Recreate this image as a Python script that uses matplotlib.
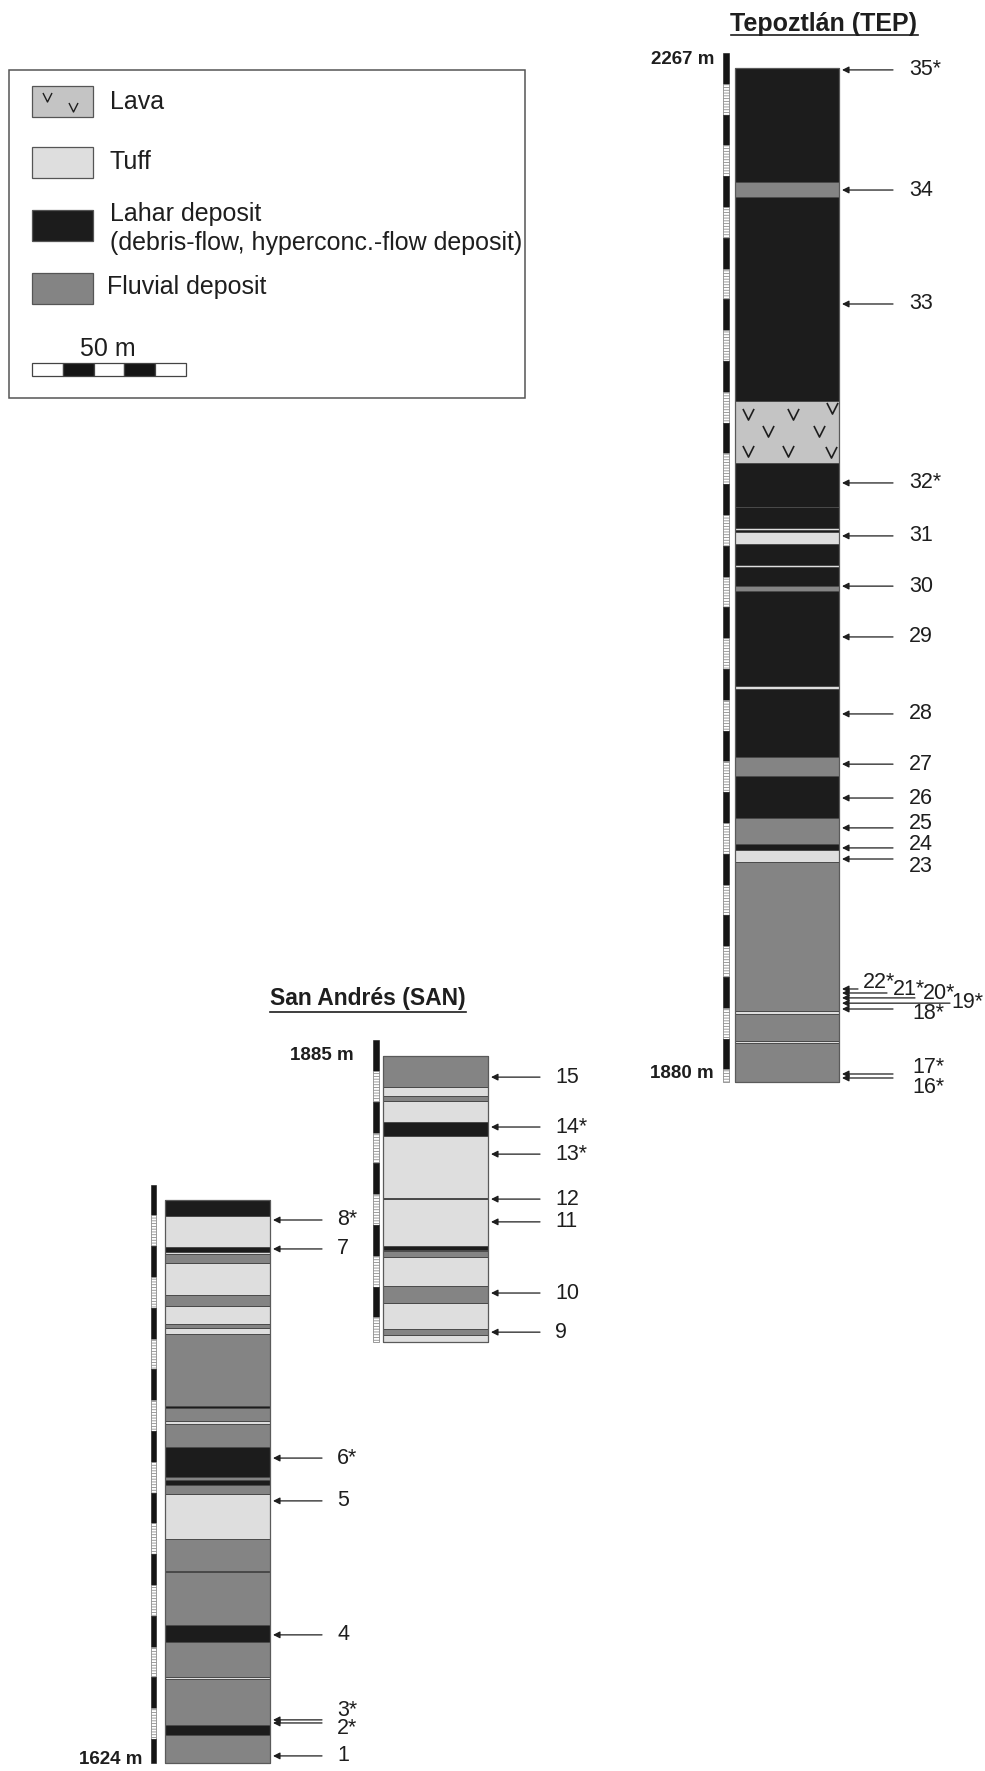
import matplotlib
matplotlib.use("Agg")
import matplotlib.pyplot as plt
from matplotlib.patches import Rectangle
import numpy as np

plt.rcParams["font.family"] = ["Liberation Sans", "DejaVu Sans"]
plt.rcParams["hatch.linewidth"] = 0.6

W, H = 985, 1771
PX = 3.08  # pixels per metre of section

FILL = {"lava": "#c4c4c4", "tuff": "#dedede", "lahar": "#1c1c1c", "fluvial": "#848484"}
INK = "#1e1e1e"

# Tepoztlan section, base -> top
tep_lith = ["fluvial", "tuff", "fluvial", "tuff", "fluvial", "tuff", "lahar", "fluvial",
            "lahar", "fluvial", "lahar", "tuff", "lahar", "fluvial", "lahar", "tuff",
            "lahar", "tuff", "lahar", "tuff", "lahar", "lahar", "lava", "lahar",
            "fluvial", "lahar"]
tep_thick = [12.7, 0.6, 8.8, 1.0, 48.4, 3.9, 1.9, 8.4,
             13.6, 6.2, 22.1, 1.0, 30.8, 1.6, 6.2, 0.7,
             6.8, 3.9, 0.6, 0.6, 6.8, 14.3, 20.1, 66.2,
             4.9, 37.0]
tep_samples = ["16*", "17*", "18*", "19*", "20*", "21*", "22*", "23", "24", "25",
               "26", "27", "28", "29", "30", "31", "32*", "33", "34", "35*"]
tep_sample_h = [1.3, 2.6, 23.7, 25.6, 27.3, 28.9, 30.2, 72.4, 76.0, 82.5,
                92.2, 103.2, 119.5, 144.5, 161.0, 177.3, 194.5, 252.6, 289.6, 328.6]

# San Andres, upper section (samples 9-15), base -> top
sanb_lith = ["tuff", "fluvial", "tuff", "fluvial", "tuff", "fluvial", "tuff", "lahar",
             "tuff", "lahar", "tuff", "lahar", "tuff", "fluvial", "tuff", "fluvial"]
sanb_thick = [2.3, 1.9, 8.4, 5.5, 9.4, 1.9, 0.4, 1.3,
              15.3, 0.3, 20.1, 4.5, 7.1, 1.6, 2.9, 10.1]
sanb_samples = ["9", "10", "11", "12", "13*", "14*", "15"]
sanb_sample_h = [3.2, 15.9, 39.0, 46.4, 61.0, 69.8, 86.0]

# San Andres, lower section (samples 1-8), base -> top
sana_lith = ["fluvial", "lahar", "fluvial", "tuff", "fluvial", "lahar", "fluvial", "lahar",
             "fluvial", "tuff", "fluvial", "lahar", "fluvial", "lahar", "fluvial", "tuff",
             "fluvial", "lahar", "fluvial", "tuff", "fluvial", "tuff", "fluvial", "tuff",
             "fluvial", "tuff", "lahar", "tuff", "lahar"]
sana_thick = [9.1, 3.2, 14.9, 0.6, 11.4, 5.5, 17.2, 0.6,
              10.1, 14.6, 3.2, 1.6, 1.0, 9.7, 7.5, 1.0,
              4.2, 0.6, 23.4, 1.9, 1.3, 5.8, 3.6, 10.4,
              2.9, 0.6, 1.6, 10.1, 5.2]
sana_samples = ["1", "2*", "3*", "4", "5", "6*", "7", "8*"]
sana_sample_h = [2.3, 13.0, 14.0, 41.6, 85.1, 99.0, 166.9, 176.3]

legend_labels = [["Lava"], ["Tuff"],
                 ["Lahar deposit", "(debris-flow, hyperconc.-flow deposit)"],
                 ["Fluvial deposit"]]
legend_keys = ["lava", "tuff", "lahar", "fluvial"]


def Y(py):
    # page pixel row -> metres from bottom of page
    return (H - py) / PX


def draw_column(ax, x0, base, lith, thick, width=104):
    thick = np.asarray(thick)
    bottoms = base + np.concatenate([[0], np.cumsum(thick)[:-1]])
    ax.bar(x0, thick, bottom=bottoms, width=width, align="edge",
           color=[FILL[l] for l in lith], edgecolor="#4a4a4a", linewidth=0.7, zorder=2)
    top = base + thick.sum()
    ax.add_patch(Rectangle((x0, base), width, top - base, fill=False,
                           edgecolor="#5a5a5a", linewidth=0.9, zorder=3))
    return bottoms, top


def draw_scale(ax, xc, base, top, w=6):
    y, k = top + 5, 0
    while y > base + 0.01:
        lo = max(base, y - 10)
        if k % 2 == 0:
            ax.bar(xc, y - lo, bottom=lo, width=w, color="#151515",
                   edgecolor="#151515", linewidth=0.4, zorder=2)
        else:
            ax.bar(xc, y - lo, bottom=lo, width=w, color="white", hatch="------",
                   edgecolor="#8c8c8c", linewidth=0.6, zorder=2)
        y, k = lo, k + 1


def draw_samples(ax, right, base, names, heights, tail=54, lab=70, special=None):
    special = special or {}
    for s, h in zip(names, heights):
        t, l, dy = special.get(s, (tail, lab, 0))
        y = base + h
        ax.annotate("", xy=(right + 3, y), xytext=(right + t, y),
                    arrowprops=dict(arrowstyle="-|>", color=INK, lw=0.9,
                                    mutation_scale=10, shrinkA=0, shrinkB=0), zorder=4)
        ax.text(right + l, y - dy / PX, s, ha="left", va="center",
                fontsize=15.5, color=INK)


fig = plt.figure(figsize=(W / 100, H / 100), dpi=100)
ax = fig.add_axes([0, 0, 1, 1])
ax.set_xlim(0, W)
ax.set_ylim(0, H / PX)
ax.axis("off")

vmark = [(-1, 1), (0, -1), (1, 1)]
ELEV = dict(ha="right", va="center", fontsize=13.5, fontweight="bold", color=INK)

# --- Tepoztlan
tep_base = Y(1082)
bot, top = draw_column(ax, 735, tep_base, tep_lith, tep_thick)
draw_scale(ax, 726, tep_base, top)
li = tep_lith.index("lava")
lava_lo, lava_hi = bot[li], bot[li] + tep_thick[li]
vx = [748, 793, 832, 768, 819, 748, 788, 831]
vf = [0.79, 0.79, 0.89, 0.52, 0.52, 0.20, 0.20, 0.18]
ax.plot(vx, [lava_lo + f * (lava_hi - lava_lo) for f in vf], linestyle="none",
        marker=vmark, markersize=8, markeredgewidth=1.2, color="#1e1e1e",
        fillstyle="none", zorder=4)
draw_samples(ax, 839, tep_base, tep_samples, tep_sample_h, special={
    "22*": (19, 24, -6), "21*": (48, 54, -3), "20*": (76, 84, -4),
    "19*": (111, 112, -1), "18*": (54, 73, 4), "17*": (54, 73, -6),
    "16*": (54, 73, 10), "25": (54, 70, -4), "24": (54, 70, -3), "23": (54, 70, 7)})
ax.text(714, Y(59), "2267 m", **ELEV)
ax.text(714, Y(1074), "1880 m", **ELEV)
t_tep = ax.text(824, Y(24), "Tepoztlán (TEP)", ha="center", va="center",
                fontsize=18, fontweight="bold", color=INK)

# --- San Andres upper
sanb_base = Y(1342)
_, top = draw_column(ax, 383, sanb_base, sanb_lith, sanb_thick, width=105)
draw_scale(ax, 376, sanb_base, top)
draw_samples(ax, 488, sanb_base, sanb_samples, sanb_sample_h, tail=52, lab=67)
ax.text(354, Y(1055), "1885 m", **ELEV)
t_san = ax.text(368, Y(999), "San Andrés (SAN)", ha="center", va="center",
                fontsize=16.5, fontweight="bold", color=INK)

# --- San Andres lower
sana_base = Y(1763)
_, top = draw_column(ax, 165, sana_base, sana_lith, sana_thick, width=105)
draw_scale(ax, 153.5, sana_base, top, w=5)
draw_samples(ax, 270, sana_base, sana_samples, sana_sample_h, tail=52, lab=67,
             special={"3*": (52, 67, -9), "2*": (52, 67, 6)})
ax.text(142, Y(1760), "1624 m", **ELEV)

# --- legend box
ax.add_patch(Rectangle((9, Y(398)), 516, (398 - 70) / PX, fill=False,
                       edgecolor="#555555", linewidth=1.1, zorder=1))
sw_top = [86, 147, 210, 273]
txt_y = [[102], [162], [214, 243], [287]]
for key, lines, tys, sy in zip(legend_keys, legend_labels, txt_y, sw_top):
    ax.add_patch(Rectangle((32, Y(sy + 31)), 61, 31 / PX, facecolor=FILL[key],
                           edgecolor="#555555", linewidth=0.9, zorder=2))
    for line, ty in zip(lines, tys):
        ax.text(110 if key != "fluvial" else 107, Y(ty), line, ha="left",
                va="center", fontsize=18, color=INK)
ax.plot([47, 73], [Y(97), Y(107)], linestyle="none", marker=vmark, markersize=6.5,
        markeredgewidth=1.0, color="#1e1e1e", fillstyle="none", zorder=3)

# 50 m scale bar
for i in range(5):
    ax.add_patch(Rectangle((32 + i * 10 * PX, Y(376)), 10 * PX, 13 / PX,
                           facecolor="#151515" if i % 2 else "white",
                           edgecolor="#444444", linewidth=0.9, zorder=2))
ax.text(108, Y(349), "50 m", ha="center", va="center", fontsize=18, color=INK)

# underline titles
fig.canvas.draw()
inv = ax.transData.inverted()
for t, uy in [(t_tep, 35), (t_san, 1012)]:
    bb = t.get_window_extent()
    x0 = inv.transform((bb.x0, 0))[0]
    x1 = inv.transform((bb.x1, 0))[0]
    ax.plot([x0, x1], [Y(uy), Y(uy)], color=INK, lw=1.2)

fig.savefig("out.png", dpi=100)
